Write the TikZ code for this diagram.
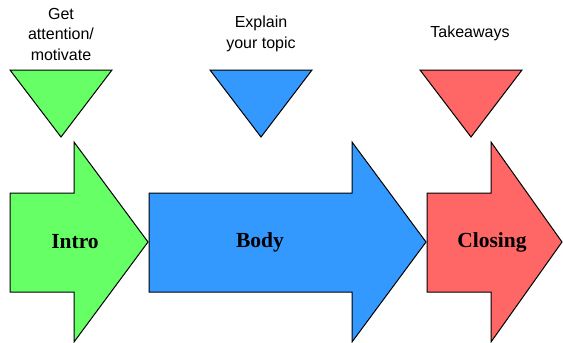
\documentclass[tikz,border=0pt]{standalone}
\usepackage{fontspec}
\setmainfont{Liberation Serif}
\newfontfamily\notefont{Liberation Sans}
\usetikzlibrary{positioning}

\definecolor{introgreen}{HTML}{66FF66}
\definecolor{bodyblue}{HTML}{3399FF}
\definecolor{closingred}{HTML}{FF6666}

\tikzset{
    part/.style     = {draw=black, line width=1pt, line join=miter},
    stagelabel/.style = {font=\fontsize{21.5}{24}\selectfont\bfseries, inner sep=0pt},
    notelabel/.style  = {font=\notefont\fontsize{16}{20.5}\selectfont, align=center, inner sep=0pt}
}

\begin{document}
\begin{tikzpicture}[x=1pt, y=-1pt]
    \useasboundingbox (0,0) rectangle (563,343);

    % Triangles {intro, body, closing}
    \draw [part, fill=introgreen]  (10,70)  -- (112,70) -- (61,137)  -- cycle;
    \draw [part, fill=bodyblue]    (210,70) -- (312,70) -- (261,137) -- cycle;
    \draw [part, fill=closingred]  (420,70) -- (522,70) -- (471,137) -- cycle;

    % Arrows {intro, body, closing}
    \draw [part, fill=introgreen]  (10,193)  -- (74,193)  -- (74,142)  -- (148,242) -- (74,342)  -- (74,292)  -- (10,292)  -- cycle;
    \draw [part, fill=bodyblue]    (149,193) -- (352,193) -- (352,142) -- (426,242) -- (352,342) -- (352,292) -- (149,292) -- cycle;
    \draw [part, fill=closingred]  (427,193) -- (491,193) -- (491,142) -- (562,242) -- (491,342) -- (491,292) -- (427,292) -- cycle;

    % Nodes {intro, body, closing}
    \node [stagelabel]  (intro)    at (75,242)   {Intro};
    \node [stagelabel]  (body)     at (260,242)  {Body};
    \node [stagelabel]  (closing)  at (492,242)  {Closing};

    % Notes above the triangles
    \node [notelabel]   (attention)  at (61,34)   {Get\\attention/\\motivate};
    \node [notelabel]   (explain)    at (261,34)  {Explain\\your topic};
    \node [notelabel]   (takeaways)  at (470,33)  {Takeaways};

\end{tikzpicture}
\end{document}
